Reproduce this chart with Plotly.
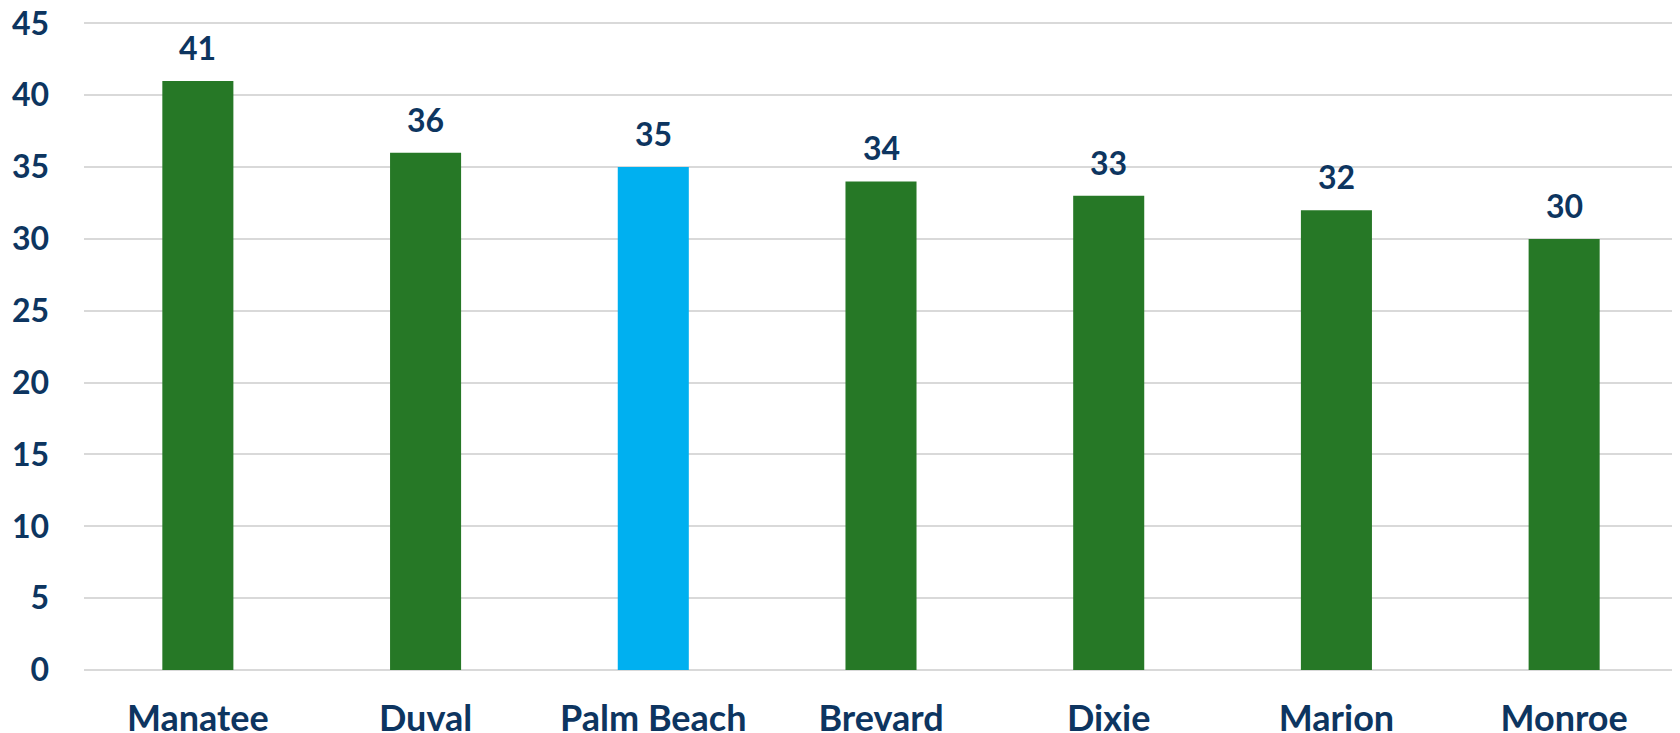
import plotly.graph_objects as go

counties = ["Manatee", "Duval", "Palm Beach", "Brevard", "Dixie", "Marion", "Monroe"]
values = [41, 36, 35, 34, 33, 32, 30]
bar_colors = ["#267826", "#267826", "#00B0F0", "#267826", "#267826", "#267826", "#267826"]

navy = "#0D3560"
font_family = "Lato, Open Sans, sans-serif"

fig = go.Figure()
fig.add_trace(go.Bar(
    x=counties,
    y=values,
    marker=dict(color=bar_colors, line=dict(width=0)),
    hoverinfo="x+y",
))

# value labels above bars
for c, v in zip(counties, values):
    fig.add_annotation(x=c, y=v, text="<b>%d</b>" % v, showarrow=False,
                       yanchor="bottom", yshift=12,
                       font=dict(size=32, color=navy, family=font_family))

fig.update_layout(
    width=1680, height=733,
    margin=dict(l=76, r=10, t=14, b=71),
    plot_bgcolor="white", paper_bgcolor="white",
    bargap=0.688,
    showlegend=False,
    font=dict(family=font_family, color=navy),
)
fig.update_yaxes(
    range=[0, 45.1], tickvals=list(range(0, 50, 5)), showgrid=True,
    gridcolor="#D9D9D9", gridwidth=2,
    zeroline=True, zerolinecolor="#D9D9D9", zerolinewidth=2,
    tickfont=dict(size=32, color=navy, family=font_family, weight="bold"),
    ticklabelstandoff=34, automargin=False, ticklabeloverflow="allow",
)
fig.update_xaxes(
    tickfont=dict(size=36, color=navy, family=font_family, weight="bold"),
    ticklabelstandoff=24, showline=False, automargin=False,
    ticklabeloverflow="allow",
)

fig.write_html("out.html")
